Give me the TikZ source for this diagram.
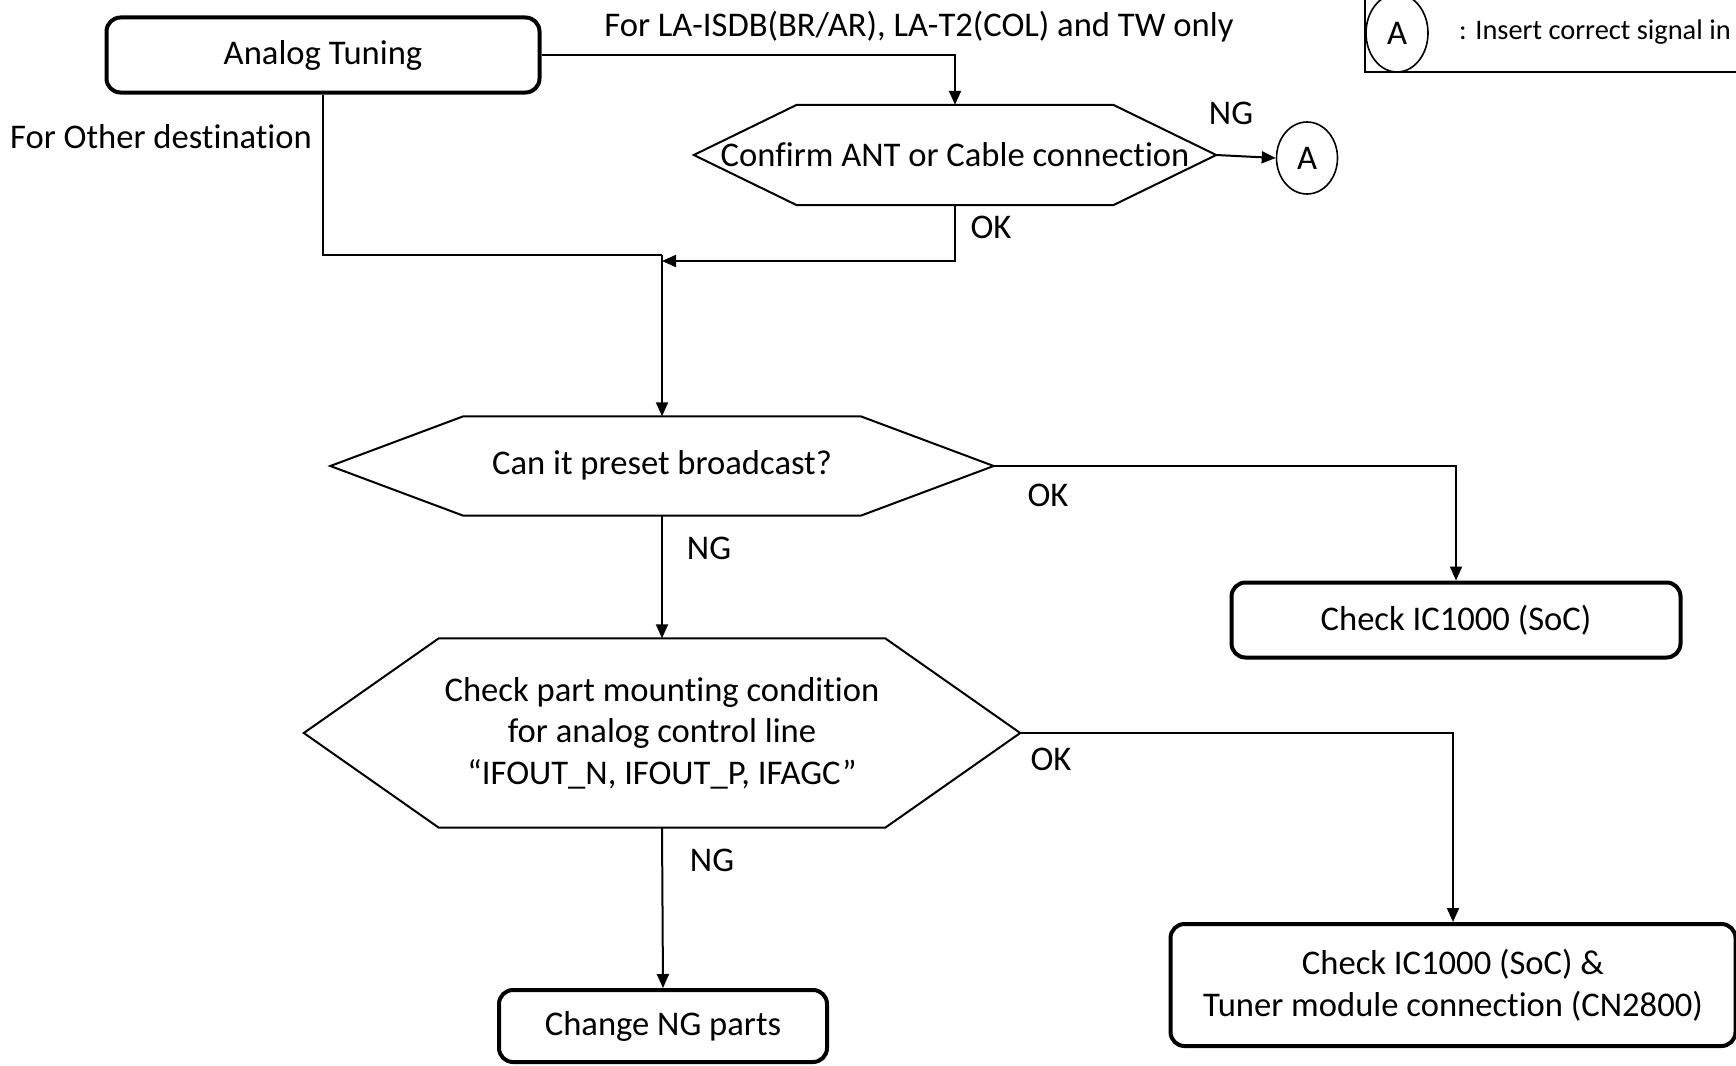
\documentclass[tikz,border=0pt]{standalone}
\usepackage{fontspec}
\setmainfont{Carlito}[Ligatures={NoCommon}]
\usetikzlibrary{arrows.meta,shapes.geometric}
\newcommand\hexdraw[2]{\draw[hexline] (#1.west) -- ([xshift=#2]#1.north west) -- ([xshift=-#2]#1.north east) -- (#1.east) -- ([xshift=-#2]#1.south east) -- ([xshift=#2]#1.south west) -- cycle;}
\begin{document}
\begin{tikzpicture}[x=1pt,y=-1pt,
  every node/.style={font=\fontsize{34.6}{41.5}\selectfont},
  box/.style={draw, line width=4pt, rounded corners=14pt, align=center, inner sep=0pt},
  hexa/.style={align=center, inner sep=0pt},
  hexline/.style={line width=2pt, line join=miter},
  conn/.style={line width=2pt},
  arr/.style={conn, -{Triangle[length=14pt,width=12pt]}},
  lbl/.style={inner sep=0pt},
  circ/.style={draw, ellipse, line width=1.6pt, inner sep=0pt}
]
\useasboundingbox (0,0) rectangle (1736,1065);

% nodes
\node[box, minimum width=433pt, minimum height=75pt] (tune) at (323,55) {Analog Tuning};
\node[hexa, minimum width=522pt, minimum height=100pt] (h1) at (955,155) {Confirm ANT or Cable connection};
\hexdraw{h1}{103pt}
\node[circ, minimum width=61pt, minimum height=72pt] (a1) at (1307,158) {A};
\node[hexa, minimum width=663pt, minimum height=99pt] (h2) at (662,466) {\raisebox{8pt}{Can it preset broadcast?}};
\hexdraw{h2}{133pt}
\node[hexa, minimum width=716pt, minimum height=189pt] (h3) at (662,733) {Check part mounting condition\\for analog control line\\“IFOUT\_N, IFOUT\_P, IFAGC”};
\hexdraw{h3}{135pt}
\node[box, minimum width=449pt, minimum height=75pt] (b3) at (1456,620) {Check IC1000 (SoC)};
\node[box, minimum width=328pt, minimum height=72pt] (b4) at (663,1026) {Change NG parts};
\node[box, minimum width=565pt, minimum height=122pt] (b5) at (1453,985) {Check IC1000 (SoC) \&\\Tuner module connection (CN2800)};

% labels
\node[lbl] (ltop) at (919,27) {For LA-ISDB(BR/AR), LA-T2(COL) and TW only};
\node[lbl] (lother) at (161,137) {For Other destination};
\node[lbl] (ng1) at (1231,113) {NG};
\node[lbl] (ok1) at (991,227) {OK};
\node[lbl] (ok2) at (1048,495) {OK};
\node[lbl] (ng2) at (709,548) {NG};
\node[lbl] (ok3) at (1051,759) {OK};
\node[lbl] (ng3) at (712,860) {NG};

% connectors
\coordinate (m1) at (662,255);
\coordinate (m2) at (662,261);
\draw[arr] (tune.east) -| (h1.north);
\draw[arr] (h1.east) -- (a1.west);
\draw[conn] (tune.south) |- (m1);
\draw[arr] (h1.south) |- (m2);
\draw[arr] (m1) -- (h2.north);
\draw[arr] (h2.east) -| (b3.north);
\draw[arr] (h2.south) -- (h3.north);
\draw[arr] (h3.east) -| (b5.north);
\draw[arr] (h3.south) -- (b4.north);

% legend
\coordinate (lg1) at (1365,0);
\coordinate (lg2) at (1365,72);
\coordinate (lg3) at (1740,72);
\draw[conn] (lg1) -- (lg2) -- (lg3);
\node[circ, minimum width=62pt, minimum height=78pt] (la) at (1397,33) {A};
\node[lbl, anchor=west, font=\fontsize{28.4}{32}\selectfont] (ltxt) at (1459,32) {: Insert correct signal in};
\end{tikzpicture}
\end{document}
